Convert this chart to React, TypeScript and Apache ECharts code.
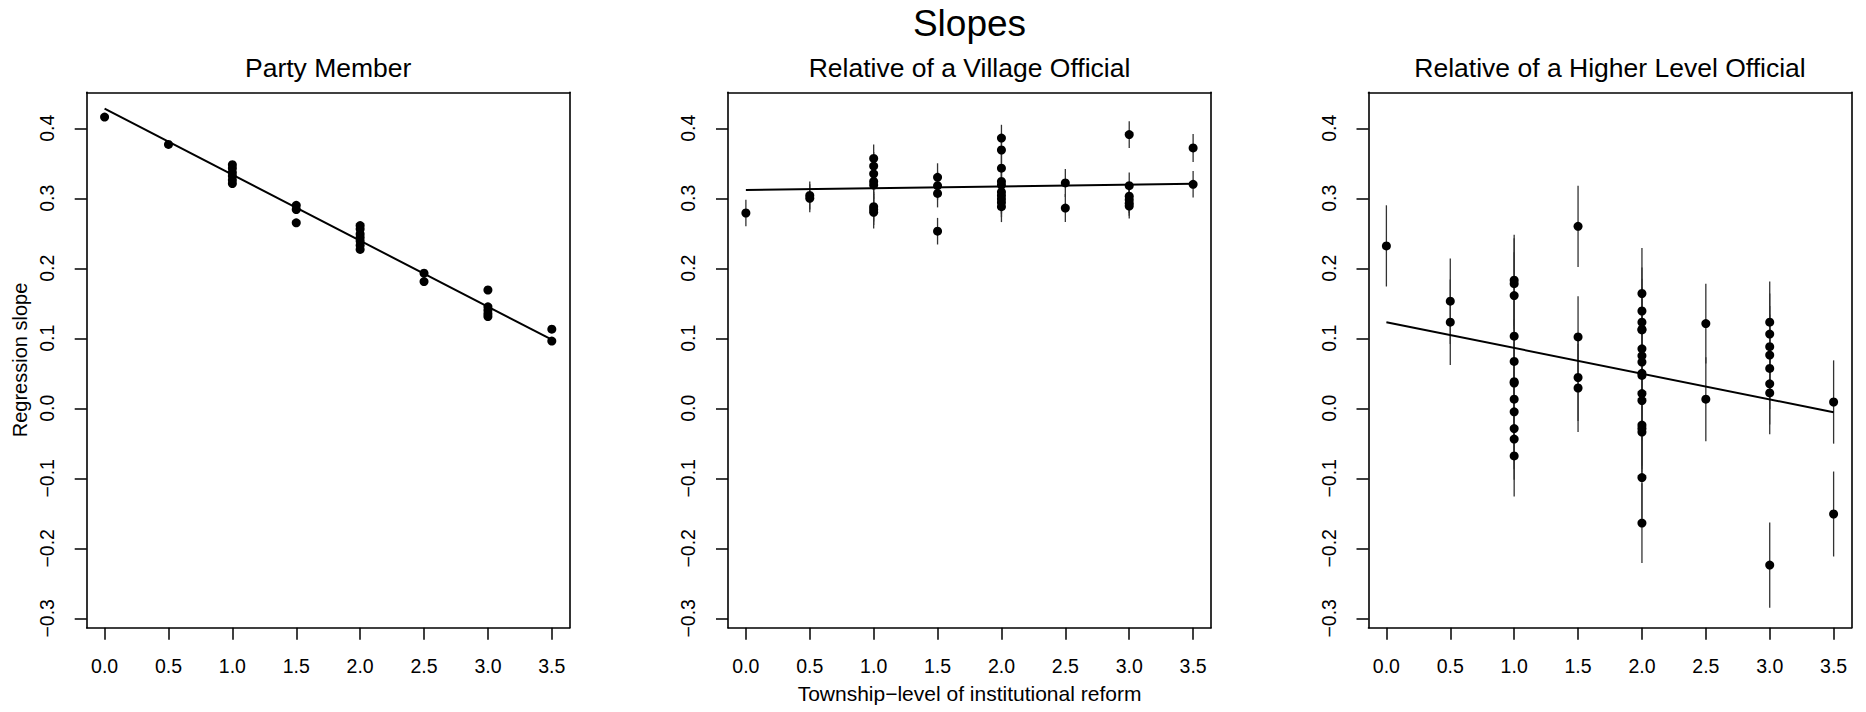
import React, { useEffect, useRef } from "react";
import * as echarts from "echarts";

const mainTitle = "Slopes";
const panelTitles = ["Party Member", "Relative of a Village Official", "Relative of a Higher Level Official"];
const xAxisTitle = "Township\u2212level of institutional reform";
const yAxisTitle = "Regression slope";

const xTicks = [0, 0.5, 1, 1.5, 2, 2.5, 3, 3.5];
const yTicks = [-0.3, -0.2, -0.1, 0, 0.1, 0.2, 0.3, 0.4];

// Panel 1: Party Member
const partyX = [0, 0.5, 1, 1, 1, 1, 1, 1, 1.5, 1.5, 1.5, 2, 2, 2, 2, 2, 2, 2, 2.5, 2.5, 3, 3, 3, 3, 3, 3.5, 3.5];
const partyY = [0.416, 0.377, 0.348, 0.343, 0.337, 0.332, 0.326, 0.321, 0.29, 0.284, 0.265, 0.261, 0.256, 0.249, 0.244, 0.239, 0.233, 0.227, 0.193, 0.181, 0.169, 0.145, 0.14, 0.135, 0.131, 0.113, 0.096];
const partyFit = [0.428, 0.098];

// Panel 2: Relative of a Village Official
const villageX = [0, 0.5, 0.5, 1, 1, 1, 1, 1, 1, 1, 1, 1.5, 1.5, 1.5, 1.5, 2, 2, 2, 2, 2, 2, 2, 2, 2, 2, 2.5, 2.5, 3, 3, 3, 3, 3, 3, 3.5, 3.5];
const villageY = [0.279, 0.304, 0.3, 0.357, 0.346, 0.335, 0.324, 0.319, 0.288, 0.284, 0.28, 0.33, 0.318, 0.307, 0.253, 0.386, 0.369, 0.343, 0.324, 0.319, 0.309, 0.304, 0.299, 0.294, 0.288, 0.322, 0.286, 0.391, 0.318, 0.303, 0.298, 0.293, 0.289, 0.372, 0.32];
const villageErr = [0.019, 0.02, 0.02, 0.02, 0.02, 0.02, 0.02, 0.02, 0.021, 0.022, 0.023, 0.02, 0.02, 0.02, 0.019, 0.019, 0.02, 0.02, 0.02, 0.02, 0.02, 0.02, 0.021, 0.021, 0.022, 0.02, 0.02, 0.019, 0.019, 0.019, 0.019, 0.018, 0.018, 0.02, 0.019];
const villageFit = [0.3117, 0.3209];

// Panel 3: Relative of a Higher Level Official
const higherX = [0, 0.5, 0.5, 1, 1, 1, 1, 1, 1, 1, 1, 1, 1, 1, 1, 1.5, 1.5, 1.5, 1.5, 2, 2, 2, 2, 2, 2, 2, 2, 2, 2, 2, 2, 2, 2, 2, 2, 2, 2.5, 2.5, 3, 3, 3, 3, 3, 3, 3, 3, 3.5, 3.5];
const higherY = [0.232, 0.153, 0.123, 0.183, 0.178, 0.161, 0.103, 0.067, 0.038, 0.036, 0.013, -0.005, -0.029, -0.044, -0.068, 0.26, 0.102, 0.044, 0.029, 0.164, 0.139, 0.123, 0.113, 0.112, 0.085, 0.075, 0.066, 0.05, 0.047, 0.021, 0.011, -0.024, -0.029, -0.034, -0.099, -0.164, 0.121, 0.013, 0.123, 0.106, 0.088, 0.076, 0.057, 0.035, 0.022, -0.224, 0.009, -0.151];
const higherErr = [0.058, 0.061, 0.061, 0.065, 0.065, 0.062, 0.06, 0.06, 0.058, 0.058, 0.058, 0.058, 0.058, 0.058, 0.058, 0.058, 0.058, 0.062, 0.063, 0.065, 0.062, 0.062, 0.06, 0.06, 0.06, 0.058, 0.058, 0.058, 0.058, 0.058, 0.058, 0.058, 0.058, 0.058, 0.058, 0.057, 0.057, 0.06, 0.058, 0.058, 0.058, 0.058, 0.058, 0.058, 0.059, 0.061, 0.0595, 0.0607];
const higherFit = [0.123, -0.0056];

const FONT = "'Liberation Sans', Arial, Helvetica, sans-serif";
const gridLefts = [86.7, 728, 1368.5];
const gridTop = 92.3;
const gridW = 483;
const gridH = 535.4;
const X_MIN = -0.14;
const X_MAX = 3.64;
const Y_MIN = -0.3134;
const Y_MAX = 0.4514;

const fmt = (v: number) => v.toFixed(1).replace("-", "\u2212");
const frameLine = { show: true, onZero: false, lineStyle: { color: "#000", width: 1.6 } };

export default function App() {
  const ref = useRef<HTMLDivElement>(null);
  useEffect(() => {
    if (!ref.current) return;
    const chart = echarts.init(ref.current, null, { renderer: "svg" });
    const panels = [
      { x: partyX, y: partyY, err: null as number[] | null, fit: partyFit },
      { x: villageX, y: villageY, err: villageErr, fit: villageFit },
      { x: higherX, y: higherY, err: higherErr, fit: higherFit },
    ];
    const grid = gridLefts.map((l) => ({
      left: l,
      top: gridTop,
      width: gridW,
      height: gridH,
      show: false,
    }));
    const xAxis: any[] = gridLefts.map((_, i) => ({
      type: "value",
      gridIndex: i,
      position: "bottom",
      min: X_MIN,
      max: X_MAX,
      axisLine: frameLine,
      splitLine: { show: false },
      axisTick: { show: true, length: 12, customValues: xTicks, lineStyle: { color: "#000", width: 1.5 } },
      axisLabel: {
        show: true,
        customValues: xTicks,
        margin: 28,
        formatter: (v: number) => fmt(v),
        color: "#000",
        fontSize: 19.5,
        fontFamily: FONT,
      },
      name: i === 1 ? xAxisTitle : "",
      nameLocation: "middle",
      nameGap: 55,
      nameTextStyle: { color: "#000", fontSize: 21, fontFamily: FONT },
    }));
    // top frame axes
    gridLefts.forEach((_, i) => {
      xAxis.push({
        type: "value",
        gridIndex: i,
        position: "top",
        min: X_MIN,
        max: X_MAX,
        axisLine: frameLine,
        axisTick: { show: false },
        axisLabel: { show: false },
        splitLine: { show: false },
      });
    });
    const yAxis: any[] = gridLefts.map((_, i) => ({
      type: "value",
      gridIndex: i,
      position: "left",
      min: Y_MIN,
      max: Y_MAX,
      axisLine: frameLine,
      splitLine: { show: false },
      axisTick: { show: true, length: 12, customValues: yTicks, lineStyle: { color: "#000", width: 1.5 } },
      axisLabel: {
        show: true,
        customValues: yTicks,
        rotate: 90,
        margin: 30,
        formatter: (v: number) => fmt(v),
        color: "#000",
        fontSize: 19.5,
        fontFamily: FONT,
      },
      name: i === 0 ? yAxisTitle : "",
      nameLocation: "middle",
      nameRotate: 90,
      nameGap: 57,
      nameTextStyle: { color: "#000", fontSize: 20, fontFamily: FONT },
    }));
    // right frame axes
    gridLefts.forEach((_, i) => {
      yAxis.push({
        type: "value",
        gridIndex: i,
        position: "right",
        min: Y_MIN,
        max: Y_MAX,
        axisLine: frameLine,
        axisTick: { show: false },
        axisLabel: { show: false },
        splitLine: { show: false },
      });
    });
    const series: any[] = [];
    panels.forEach((p, i) => {
      if (p.err) {
        const errData = p.x.map((xv, k) => [xv, p.y[k] - p.err![k], p.y[k] + p.err![k]]);
        series.push({
          type: "custom",
          xAxisIndex: i,
          yAxisIndex: i,
          data: errData,
          encode: { x: 0, y: [1, 2] },
          renderItem: (params: any, api: any) => {
            const a = api.coord([api.value(0), api.value(1)]);
            const b = api.coord([api.value(0), api.value(2)]);
            return {
              type: "line",
              shape: { x1: a[0], y1: a[1], x2: b[0], y2: b[1] },
              style: { stroke: "#333", lineWidth: 1.3 },
            };
          },
          silent: true,
          z: 1,
        });
      }
      series.push({
        type: "line",
        xAxisIndex: i,
        yAxisIndex: i,
        data: [[0, p.fit[0]], [3.5, p.fit[1]]],
        showSymbol: false,
        symbol: "none",
        lineStyle: { color: "#000", width: 2 },
        silent: true,
        z: 2,
      });
      series.push({
        type: "scatter",
        xAxisIndex: i,
        yAxisIndex: i,
        data: p.x.map((xv, k) => [xv, p.y[k]]),
        symbol: "circle",
        symbolSize: 9,
        itemStyle: { color: "#000", opacity: 1 },
        silent: true,
        z: 3,
      });
    });
    const graphic: any[] = [
      {
        type: "text",
        x: gridLefts[1] + gridW / 2,
        y: 23,
        style: { text: mainTitle, fill: "#000", font: `37px ${FONT}`, textAlign: "center", textVerticalAlign: "middle" },
      },
      ...panelTitles.map((t, i) => ({
        type: "text",
        x: gridLefts[i] + gridW / 2,
        y: 67.5,
        style: { text: t, fill: "#000", font: `26.5px ${FONT}`, textAlign: "center", textVerticalAlign: "middle" },
      })),
    ];
    chart.setOption({
      animation: false,
      backgroundColor: "#fff",
      grid,
      xAxis,
      yAxis,
      series,
      graphic,
    } as any);
    return () => chart.dispose();
  }, []);
  return <div ref={ref} style={{ position: "fixed", left: 0, top: 0, width: 1866, height: 712 }} />;
}
